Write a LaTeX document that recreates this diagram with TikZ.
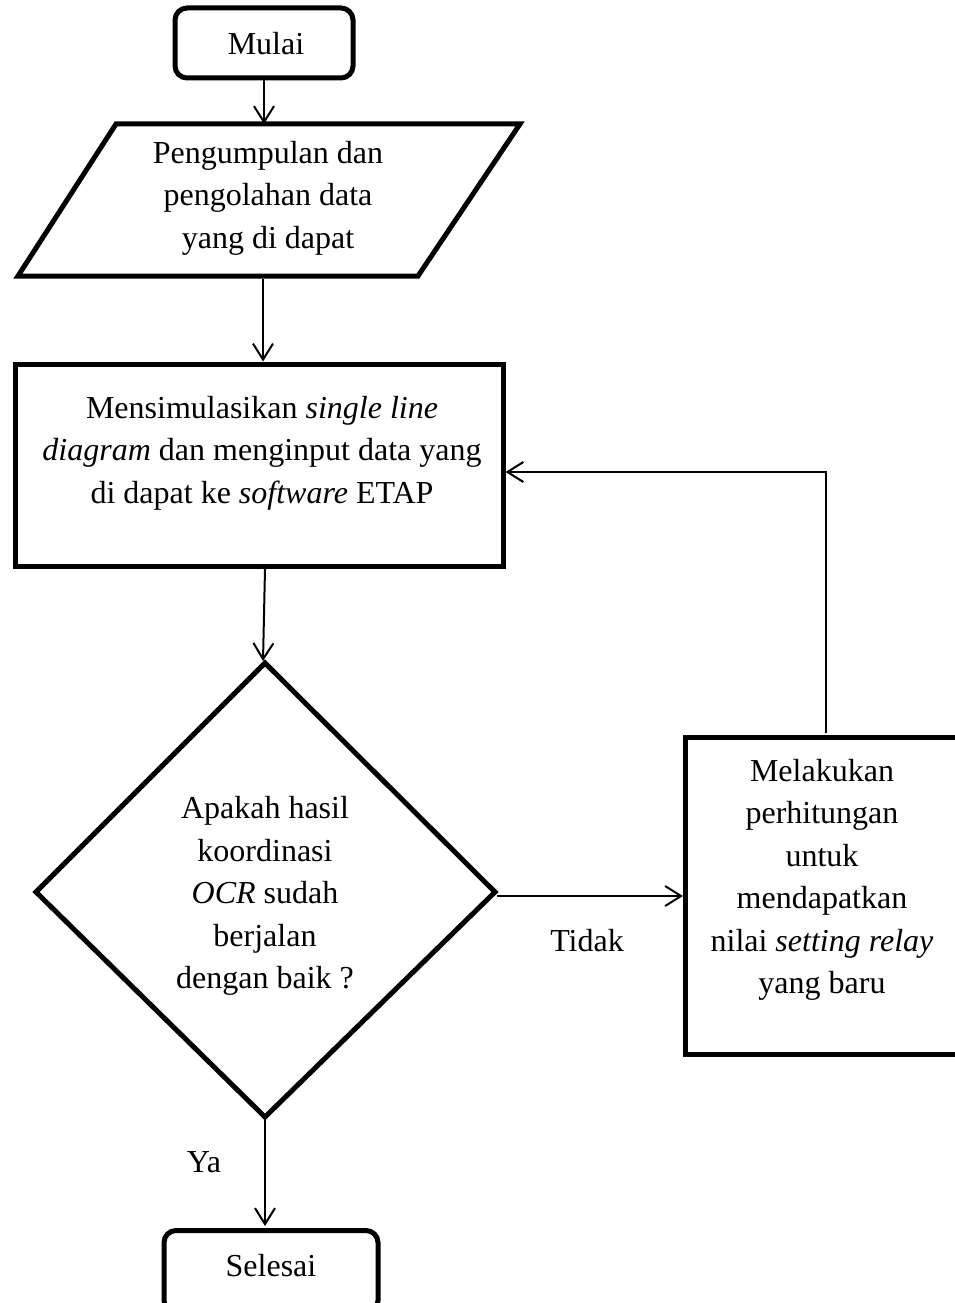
\documentclass[tikz,border=0pt]{standalone}
\usepackage{fontspec}
\setmainfont{Liberation Serif}
\usetikzlibrary{arrows.meta}
\begin{document}
\begin{tikzpicture}[x=1pt,y=-1pt,
  shp/.style={draw, line width=5pt, line join=miter},
  term/.style={shp, rounded corners=12pt},
  conn/.style={line width=2pt, -{Straight Barb[length=16pt,width=20pt,line width=2pt]}},
  txt/.style={font=\fontsize{32}{42.5}\selectfont, align=center, inner sep=0pt}]
\useasboundingbox (0,0) rectangle (955,1303);
% start
\node[term, minimum width=178pt, minimum height=70pt, inner sep=0pt] (mulai) at (264,43) {};
\node[txt] (mulaitxt) at (266,44) {Mulai};
% data (parallelogram)
\draw[shp] (116,124) -- (520,124) -- (418,276) -- (18,276) -- cycle;
\coordinate (dataT) at (264,124);
\coordinate (dataB) at (263,279);
\node[txt] (datatxt) at (268,198) {Pengumpulan dan\\pengolahan data\\yang di dapat};
% simulation rectangle
\node[shp, minimum width=488pt, minimum height=202pt, inner sep=0pt] (sim) at (259,465) {};
\node[txt] (simtxt) at (262,453) {Mensimulasikan \textit{single line}\\\textit{diagram} dan menginput data yang\\di dapat ke \textit{software} ETAP};
% decision diamond
\coordinate (dT) at (265,663);
\coordinate (dL) at (36,892);
\coordinate (dR) at (495,892);
\coordinate (dB) at (265,1117);
\draw[shp] (dT) -- (dR) -- (dB) -- (dL) -- cycle;
\node[txt] (dectxt) at (265,896) {Apakah hasil\\koordinasi\\\textit{OCR} sudah\\berjalan\\dengan baik ?};
% calculation box
\node[shp, minimum width=292pt, minimum height=317pt, inner sep=0pt, anchor=north west] (calc) at (683,735) {};
\node[txt] (calctxt) at (822,880) {Melakukan\\perhitungan\\untuk\\mendapatkan\\nilai \textit{setting relay}\\yang baru};
% end
\node[term, minimum width=214pt, minimum height=82pt, inner sep=0pt, anchor=north] (selesai) at (271,1228) {};
\node[txt] (selesaitxt) at (271,1266) {Selesai};
% connectors
\draw[conn] (mulai.south) -- (mulai.south |- dataT);
\draw[conn] (dataB) -- (dataB |- sim.north);
\coordinate (s1) at (265,569);
\draw[conn] (s1) -- (263,661);
\coordinate (dRa) at (497,896);
\draw[conn] (dRa) -- (calc.west |- dRa);
\coordinate (fb) at (826,733);
\draw[conn] (fb) |- (sim.east |- 0,472);
\draw[conn] (dB) ++(0,2) -- (265,1226);
% labels
\node[txt] (tidak) at (587,941) {Tidak};
\node[txt] (ya) at (204,1162) {Ya};
\end{tikzpicture}
\end{document}
